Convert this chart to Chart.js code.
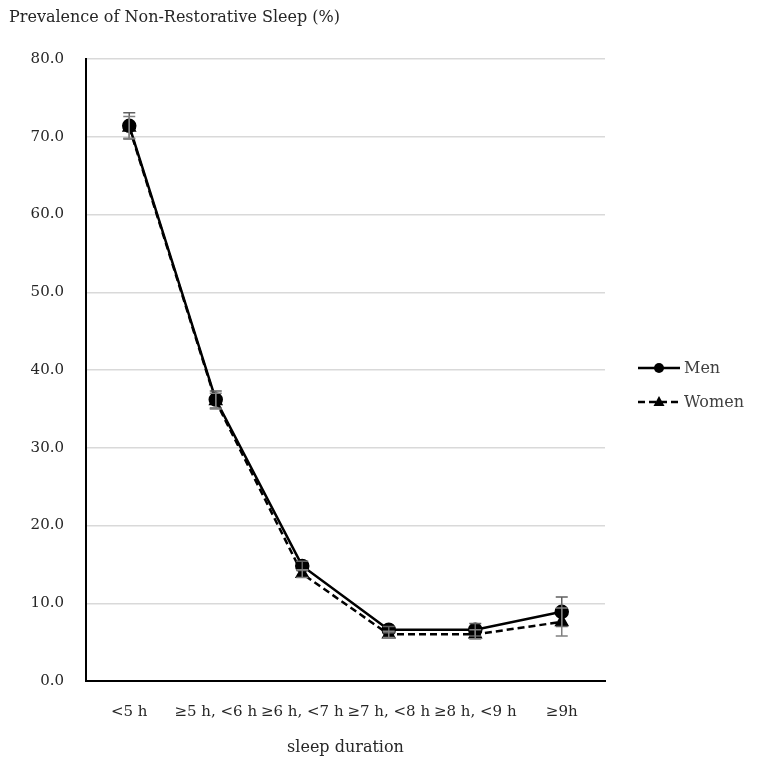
<!DOCTYPE html>
<html>
<head>
<meta charset="utf-8">
<script src="https://cdn.jsdelivr.net/npm/chart.js@4/dist/chart.umd.min.js"></script>
<style>
html,body{margin:0;padding:0;background:#fff;}
#wrap{width:761px;height:771px;position:relative;}
</style>
</head>
<body>
<div id="wrap"><canvas id="c" width="761" height="771"></canvas></div>
<script>
const categories = ["<5 h", "\u22655 h, <6 h", "\u22656 h, <7 h", "\u22657 h, <8 h", "\u22658 h, <9 h", "\u22659h"];
const menValues = [71.4, 36.2, 14.8, 6.6, 6.6, 8.9];
const menErrors = [1.7, 1.1, 0.6, 0.4, 0.8, 1.9];
const womenValues = [71.2, 36.0, 13.8, 6.0, 6.0, 7.6];
const womenErrors = [1.4, 1.0, 0.5, 0.4, 0.6, 1.8];
const yTicks = [0, 10, 20, 30, 40, 50, 60, 70, 80];
const titleText = "Prevalence of Non-Restorative Sleep (%)";
const xTitleText = "sleep duration";
const seriesNames = ["Men", "Women"];

const FONT = "'DejaVu Serif', 'Liberation Serif', serif";

const errorBarPlugin = {
  id: 'errorBars',
  afterDatasetsDraw(chart) {
    const ctx = chart.ctx;
    const y = chart.scales.y;
    chart.data.datasets.forEach((ds, i) => {
      const meta = chart.getDatasetMeta(i);
      ctx.save();
      ctx.strokeStyle = i === 0 ? '#606060' : '#808080';
      ctx.lineWidth = 1.5;
      ds.errors.forEach((e, j) => {
        const pt = meta.data[j];
        const x = pt.x;
        const yt = y.getPixelForValue(ds.data[j] + e);
        const yb = y.getPixelForValue(ds.data[j] - e);
        ctx.beginPath();
        ctx.moveTo(x, yt); ctx.lineTo(x, yb);
        ctx.moveTo(x - 6, yt); ctx.lineTo(x + 6, yt);
        ctx.moveTo(x - 6, yb); ctx.lineTo(x + 6, yb);
        ctx.stroke();
      });
      ctx.restore();
    });
  }
};

const textPlugin = {
  id: 'texts',
  afterDraw(chart) {
    const ctx = chart.ctx;
    const ca = chart.chartArea;
    ctx.save();
    ctx.fillStyle = '#262626';
    ctx.font = "16px " + FONT;
    ctx.textAlign = 'left';
    ctx.textBaseline = 'middle';
    ctx.fillText(titleText, 9, 18);
    ctx.textAlign = 'center';
    ctx.fillText(xTitleText, (ca.left + ca.right) / 2, 748);
    // legend
    ctx.textAlign = 'left';
    chart.data.datasets.forEach((ds, i) => {
      const ly = 368 + i * 34;
      const x0 = 638, x1 = 680;
      ctx.save();
      ctx.strokeStyle = '#000';
      ctx.lineWidth = 2.5;
      ctx.setLineDash(ds.borderDash || []);
      ctx.beginPath(); ctx.moveTo(x0, ly); ctx.lineTo(x1, ly); ctx.stroke();
      ctx.restore();
      const cx = (x0 + x1) / 2;
      ctx.fillStyle = '#000';
      ctx.beginPath();
      if (ds.pointStyle === 'triangle') {
        ctx.moveTo(cx, ly - 6); ctx.lineTo(cx + 5.5, ly + 4); ctx.lineTo(cx - 5.5, ly + 4); ctx.closePath();
      } else {
        ctx.arc(cx, ly, 5, 0, Math.PI * 2);
      }
      ctx.fill();
      ctx.fillStyle = '#404040';
      ctx.fillText(ds.label, 684, ly + 1);
    });
    ctx.restore();
  }
};

new Chart(document.getElementById('c'), {
  type: 'line',
  data: {
    labels: categories,
    datasets: [
      {
        label: seriesNames[0], data: menValues, errors: menErrors,
        borderColor: '#000', backgroundColor: '#000', borderWidth: 2.5,
        pointStyle: 'circle', pointRadius: 6, pointBackgroundColor: '#000', pointBorderColor: '#000',
        tension: 0, order: 1
      },
      {
        label: seriesNames[1], data: womenValues, errors: womenErrors,
        borderColor: '#000', backgroundColor: '#000', borderWidth: 2.5, borderDash: [7, 4],
        pointStyle: 'triangle', pointRadius: 6, pointBackgroundColor: '#000', pointBorderColor: '#000',
        tension: 0, order: 2
      }
    ]
  },
  options: {
    responsive: false,
    animation: false,
    layout: { padding: { top: 59, right: 156, left: 0, bottom: 0 } },
    plugins: { legend: { display: false }, tooltip: { enabled: false }, title: { display: false } },
    scales: {
      x: {
        offset: true,
        grid: { display: false, drawTicks: false },
        border: { display: true, color: '#000', width: 2 },
        ticks: { color: '#262626', font: { family: FONT, size: 15 }, padding: 22, maxRotation: 0, autoSkip: false },
        afterFit(s) { s.height = 90; }
      },
      y: {
        min: 0, max: 80,
        afterBuildTicks(s) { s.ticks = yTicks.map(v => ({ value: v })); },
        grid: { color: '#d9d9d9', lineWidth: 1.5, drawTicks: false },
        border: { display: true, color: '#000', width: 2 },
        ticks: { color: '#262626', font: { family: FONT, size: 15 }, padding: 22, callback: v => Number(v).toFixed(1) },
        afterFit(s) { s.width = 86; }
      }
    }
  },
  plugins: [errorBarPlugin, textPlugin]
});
</script>
</body>
</html>
